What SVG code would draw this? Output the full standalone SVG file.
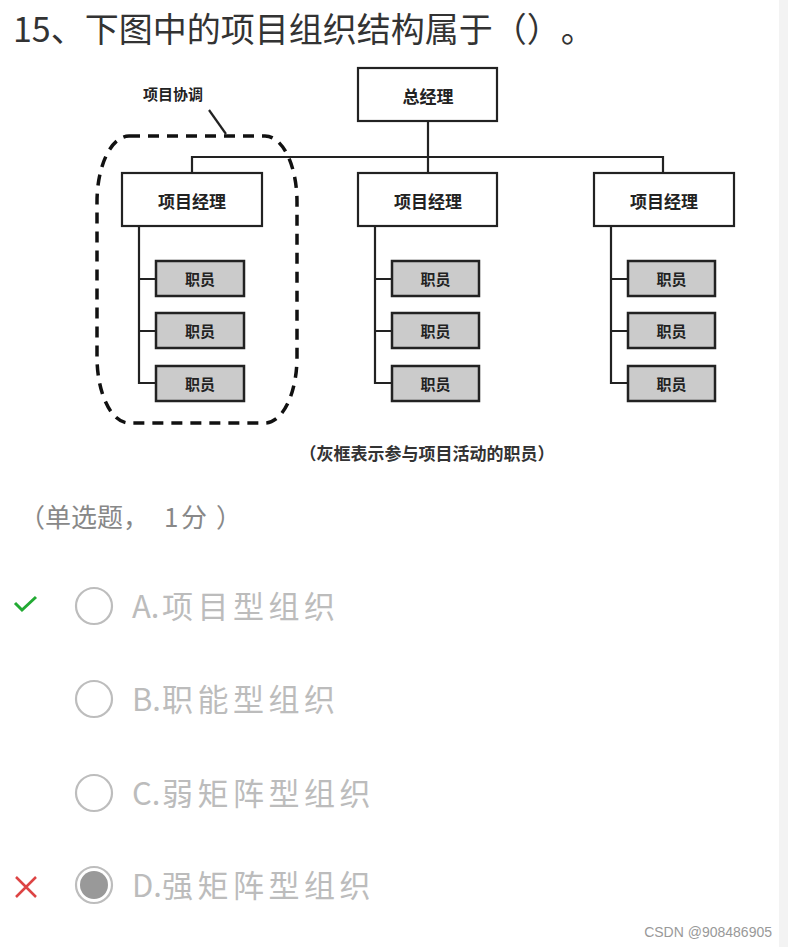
<svg xmlns="http://www.w3.org/2000/svg" width="788" height="947" viewBox="0 0 788 947">
<style>
.cjk{font-family:"Noto Sans CJK SC","Noto Sans",sans-serif;text-spacing-trim:space-all}
.trim{text-spacing-trim:normal}
.box{fill:#fff;stroke:#222;stroke-width:2.2}
.emp{fill:#cbcbcb;stroke:#222;stroke-width:2.5}
.bt{font-size:17px;font-weight:bold;fill:#222;text-anchor:middle;dominant-baseline:central}
.et{font-size:15px;font-weight:bold;fill:#222;text-anchor:middle;dominant-baseline:central}
.ln{fill:none;stroke:#222;stroke-width:2.2}
.opt{font-size:31px;fill:#bcbcbc}
.sp{letter-spacing:4.5px}
.radio{fill:none;stroke:#bdbdbd;stroke-width:2.2}
</style>
<rect x="0" y="0" width="788" height="947" fill="#fff"/>
<rect x="779" y="0" width="9" height="947" fill="#f3f3f3"/>
<text class="cjk" x="13" y="42" font-size="34" fill="#333">15、下图中的项目组织结构属于（）。</text>

<g id="connectors">
<path class="ln" d="M428 121V173M192 173V157H663V173"/>
<path class="ln" d="M139 226V383H156M139 279H156M139 331H156"/>
<path class="ln" d="M375 226V383H392M375 279H392M375 331H392"/>
<path class="ln" d="M611 226V383H628M611 279H628M611 331H628"/>
<path class="ln" d="M209 110L226 134"/>
</g>

<g id="coordination">
<rect x="97" y="136" width="200" height="287" rx="32" ry="66" fill="none" stroke="#111" stroke-width="3.5" stroke-dasharray="11 8"/>
<text class="cjk" x="173" y="93" font-size="15" font-weight="bold" fill="#222" text-anchor="middle" dominant-baseline="central">项目协调</text>
</g>

<g id="gm"><rect class="box" x="358" y="68" width="139" height="53"/><text class="cjk bt" x="428" y="95">总经理</text></g>
<g id="pm1"><rect class="box" x="122" y="173" width="140" height="53"/><text class="cjk bt" x="192" y="200">项目经理</text></g>
<g id="pm2"><rect class="box" x="358" y="173" width="139" height="53"/><text class="cjk bt" x="428" y="200">项目经理</text></g>
<g id="pm3"><rect class="box" x="594" y="173" width="140" height="53"/><text class="cjk bt" x="664" y="200">项目经理</text></g>

<g id="e11"><rect class="emp" x="156" y="261" width="88" height="35"/><text class="cjk et" x="200" y="278.5">职员</text></g>
<g id="e12"><rect class="emp" x="156" y="313" width="88" height="35"/><text class="cjk et" x="200" y="330.5">职员</text></g>
<g id="e13"><rect class="emp" x="156" y="366" width="88" height="35"/><text class="cjk et" x="200" y="383.5">职员</text></g>
<g id="e21"><rect class="emp" x="392" y="261" width="87" height="35"/><text class="cjk et" x="435.5" y="278.5">职员</text></g>
<g id="e22"><rect class="emp" x="392" y="313" width="87" height="35"/><text class="cjk et" x="435.5" y="330.5">职员</text></g>
<g id="e23"><rect class="emp" x="392" y="366" width="87" height="35"/><text class="cjk et" x="435.5" y="383.5">职员</text></g>
<g id="e31"><rect class="emp" x="628" y="261" width="87" height="35"/><text class="cjk et" x="671.5" y="278.5">职员</text></g>
<g id="e32"><rect class="emp" x="628" y="313" width="87" height="35"/><text class="cjk et" x="671.5" y="330.5">职员</text></g>
<g id="e33"><rect class="emp" x="628" y="366" width="87" height="35"/><text class="cjk et" x="671.5" y="383.5">职员</text></g>

<text class="cjk trim" x="427" y="452" font-size="17" font-weight="bold" fill="#333" text-anchor="middle" dominant-baseline="central">（灰框表示参与项目活动的职员）</text>

<text class="cjk" x="19" y="527" font-size="26" fill="#888">（单选题，<tspan x="164">1</tspan><tspan x="181">分</tspan><tspan x="216">）</tspan></text>

<g id="optA">
<path d="M15 603L22 610L36 597" fill="none" stroke="#22aa33" stroke-width="3"/>
<circle class="radio" cx="94" cy="606" r="18"/>
<text class="cjk opt" x="132" y="618">A.<tspan class="sp" x="162">项目型组织</tspan></text>
</g>
<g id="optB">
<circle class="radio" cx="94" cy="699" r="18"/>
<text class="cjk opt" x="132" y="711">B.<tspan class="sp" x="162">职能型组织</tspan></text>
</g>
<g id="optC">
<circle class="radio" cx="94" cy="793" r="18"/>
<text class="cjk opt" x="132" y="805">C.<tspan class="sp" x="162">弱矩阵型组织</tspan></text>
</g>
<g id="optD">
<path d="M16 877L36 897M36 877L16 897" fill="none" stroke="#dd4444" stroke-width="2.5"/>
<circle class="radio" cx="94" cy="885" r="18"/>
<circle cx="94" cy="885" r="14" fill="#999"/>
<text class="cjk opt" x="132" y="897">D.<tspan class="sp" x="162">强矩阵型组织</tspan></text>
</g>

<text x="772" y="937" font-family="Liberation Sans, Arial, sans-serif" font-size="14" fill="#999" text-anchor="end">CSDN @908486905</text>
</svg>
